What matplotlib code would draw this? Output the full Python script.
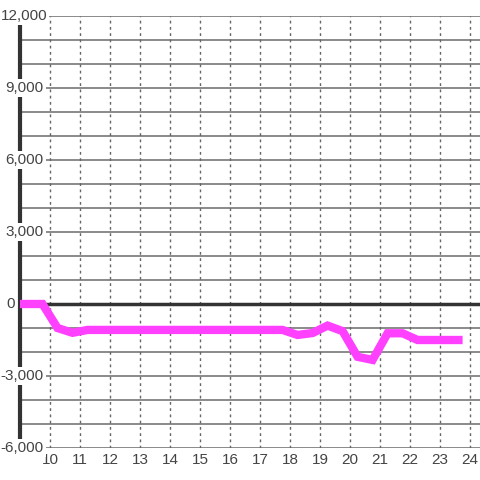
import matplotlib
matplotlib.use('Agg')
import matplotlib.pyplot as plt

plt.rcParams['font.family'] = ['Liberation Sans', 'DejaVu Sans']

# data
xs = [8.75, 9.25, 9.75, 10.25, 10.75, 11.25, 11.75, 12.25, 12.75, 13.25, 13.75,
      14.25, 14.75, 15.25, 15.75, 16.25, 16.75, 17.25, 17.75, 18.25, 18.75,
      19.25, 19.75, 20.25, 20.75, 21.25, 21.75, 22.25, 22.75, 23.25, 23.75]
ys = [0, 0, 0, -1000, -1200, -1080, -1080, -1080, -1080, -1080, -1080,
      -1080, -1080, -1080, -1080, -1080, -1080, -1080, -1080, -1290, -1210,
      -900, -1130, -2200, -2330, -1220, -1220, -1500, -1500, -1500, -1500]
xticks = list(range(10, 25))
yticks = [12000, 9000, 6000, 3000, 0, -3000, -6000]
ylabels = ['12,000', '9,000', '6,000', '3,000', '0', '-3,000', '-6,000']

fig = plt.figure(figsize=(4.8, 4.8), dpi=100)
ax = fig.add_axes([20/480, 32/480, 460/480, 432/480])
ax.set_xlim(9, 24.33)
ax.set_ylim(-6000, 12000)

for s in ['top', 'right', 'bottom']:
    ax.spines[s].set_visible(False)
ax.spines['left'].set_color('#333333')
ax.spines['left'].set_linewidth(3)
ax.spines['left'].set_zorder(3)

# grid
for v in range(-6000, 12001, 1000):
    ax.axhline(v, color='#777777', lw=1.2, zorder=1)
for xt in xticks:
    ax.axvline(xt, color='#666666', lw=1, ls=(0, (2, 2.5)), zorder=1)
ax.axhline(0, color='#333333', lw=2.5, zorder=2)

ax.plot(xs, ys, color='#ff40ff', lw=6, solid_joinstyle='miter',
        solid_capstyle='butt', zorder=5)

ax.set_xticks([])
ax.set_yticks([])
for xt in xticks:
    ax.text(xt, -6000 - 12*41.67, str(xt), ha='center', va='center',
            fontsize=11, color='#444444', clip_on=False)

for v, lab in zip(yticks, ylabels):
    if v == 0:
        ax.text(8.84, v, lab, ha='right', va='center', fontsize=11,
                color='#444444', zorder=6, clip_on=False)
    else:
        xpos = 9.9 if v == 12000 else 9.78
        ax.text(xpos, v, lab, ha='right', va='center', fontsize=11,
                color='#444444', zorder=6, clip_on=False,
                bbox=dict(facecolor='white', edgecolor='none', pad=1.5))

fig.savefig('out.png', dpi=100)
